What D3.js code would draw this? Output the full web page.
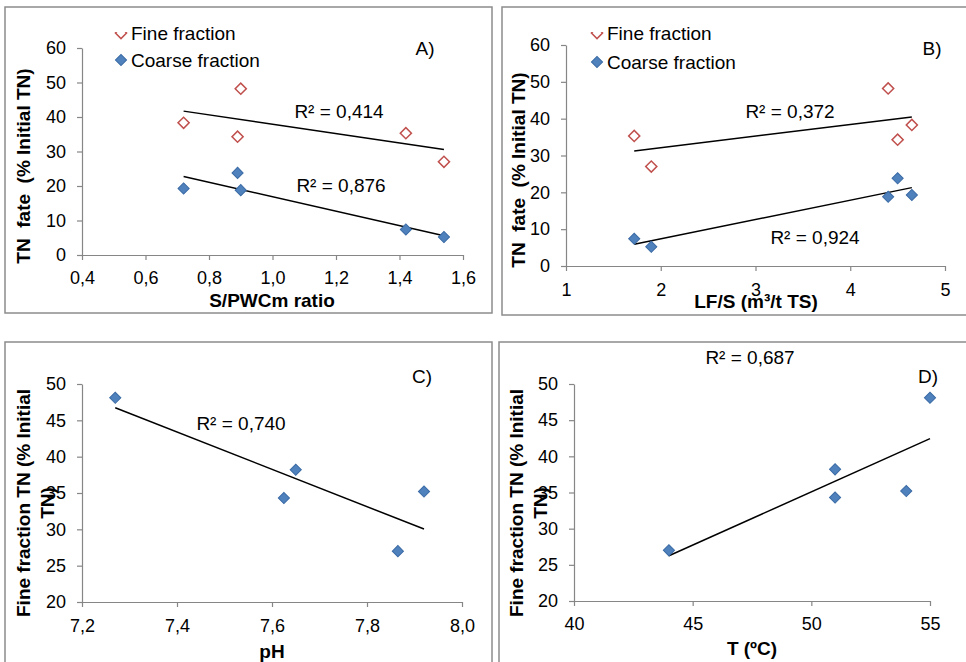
<!DOCTYPE html>
<html>
<head lang="en">
    <meta charset="UTF-8">
    <title>TN fate</title>
    <style>
        body { margin: 0; background: #fff; }
        text { font-family: "Liberation Sans", Arial, sans-serif; fill: #000; }
    </style>
</head>
<body>
<div id="chart"></div>
<script src="https://cdnjs.cloudflare.com/ajax/libs/d3/7.8.5/d3.min.js"></script>
<script>
// --- data ---
var ratioSPWC = [0.72, 0.89, 0.90, 1.42, 1.54];
var fineByRatio = [38.3, 34.3, 48.2, 35.3, 27.0];
var coarseByRatio = [19.3, 23.8, 18.8, 7.4, 5.2];

var lfS = [1.72, 1.90, 4.40, 4.50, 4.65];
var fineByLFS = [35.3, 27.0, 48.2, 34.3, 38.3];
var coarseByLFS = [7.4, 5.2, 18.8, 23.8, 19.3];

var pHValues = [7.27, 7.625, 7.65, 7.865, 7.92];
var tempC = [55, 51, 51, 44, 54];
var fineFractionTN = [48.1, 34.3, 38.2, 27.0, 35.2];

var ticksRatio = [0.4, 0.6, 0.8, 1.0, 1.2, 1.4, 1.6];
var ticksLFS = [1, 2, 3, 4, 5];
var ticksPH = [7.2, 7.4, 7.6, 7.8, 8.0];
var ticksT = [40, 45, 50, 55];
var ticksFate = [0, 10, 20, 30, 40, 50, 60];
var ticksFine = [20, 25, 30, 35, 40, 45, 50];

var r2Labels = ["R\u00b2 = 0,414", "R\u00b2 = 0,876", "R\u00b2 = 0,372", "R\u00b2 = 0,924", "R\u00b2 = 0,740", "R\u00b2 = 0,687"];
var legendNames = ["Fine fraction", "Coarse fraction"];

var svg = d3.select("#chart").append("svg")
        .attr("width", 966)
        .attr("height", 662);

var axisColor = "#868686";
var comma1 = function (v) { return d3.format(".1f")(v).replace(".", ","); };
var diamond = d3.symbol().type(d3.symbolSquare).size(62);

// least squares fit, drawn between min and max x
function fitLine(xs, ys) {
    var mx = d3.mean(xs), my = d3.mean(ys);
    var sxy = d3.sum(xs, function (x, i) { return (x - mx) * (ys[i] - my); });
    var sxx = d3.sum(xs, function (x) { return (x - mx) * (x - mx); });
    var b = sxy / sxx, a = my - b * mx;
    var ext = d3.extent(xs);
    return ext.map(function (x) { return [x, a + b * x]; });
}

function drawPanel(p) {
    var g = svg.append("g");

    g.append("rect")
        .attr("x", p.frame[0]).attr("y", p.frame[1])
        .attr("width", p.frame[2]).attr("height", p.frame[3])
        .attr("fill", "none").attr("stroke", "#8c8c8c").attr("stroke-width", 1.5);

    var x = d3.scaleLinear().domain(p.xDomain).range(p.xRange);
    var y = d3.scaleLinear().domain(p.yDomain).range(p.yRange);

    var xAxis = g.append("g")
        .attr("transform", "translate(0," + p.yRange[0] + ")")
        .call(d3.axisBottom(x).tickValues(p.xTicks).tickFormat(p.xFormat)
            .tickSize(5).tickSizeOuter(0).tickPadding(p.xPad));
    var yAxis = g.append("g")
        .attr("transform", "translate(" + p.xRange[0] + ",0)")
        .call(d3.axisLeft(y).tickValues(p.yTicks).tickFormat(d3.format("d"))
            .tickSize(5).tickSizeOuter(0).tickPadding(11));

    [xAxis, yAxis].forEach(function (ax) {
        ax.select(".domain").attr("stroke", axisColor).attr("stroke-width", 1.2);
        ax.selectAll(".tick line").attr("stroke", axisColor).attr("stroke-width", 1.2);
        ax.selectAll("text").attr("font-size", 18)
            .style("font-family", "'Liberation Sans', Arial, sans-serif").attr("fill", "#000");
    });

    // trendlines under markers
    p.series.forEach(function (s) {
        g.append("path")
            .datum(fitLine(p.xs, s.values))
            .attr("fill", "none").attr("stroke", "#000").attr("stroke-width", 1.5)
            .attr("d", d3.line().x(function (d) { return x(d[0]); }).y(function (d) { return y(d[1]); }));
    });

    p.series.forEach(function (s) {
        g.selectAll(null)
            .data(s.values)
            .enter().append("path")
            .attr("d", diamond)
            .attr("transform", function (d, i) {
                return "translate(" + x(p.xs[i]) + "," + y(d) + ") rotate(45)";
            })
            .attr("fill", s.fill).attr("stroke", s.stroke).attr("stroke-width", s.sw);
    });

    p.r2.forEach(function (r) {
        g.append("text").attr("x", r[1]).attr("y", r[2])
            .attr("text-anchor", "middle").attr("dominant-baseline", "central")
            .attr("font-size", 19).text(r[0]);
    });

    g.append("text").attr("x", p.tag[1]).attr("y", p.tag[2])
        .attr("text-anchor", "middle").attr("dominant-baseline", "central")
        .attr("font-size", 19).text(p.tag[0]);

    g.append("text").attr("x", p.xTitle[1]).attr("y", p.xTitle[2])
        .attr("text-anchor", "middle").attr("dominant-baseline", "central")
        .attr("font-size", 19).attr("font-weight", "bold")
        .text(p.xTitle[0]);

    // y title, may be two lines
    var yt = g.append("text")
        .attr("transform", "translate(" + p.yTitle[1] + "," + p.yTitle[2] + ") rotate(-90)")
        .attr("text-anchor", "middle")
        .attr("font-size", 19).attr("font-weight", "bold");
    p.yTitle[0].forEach(function (line, i) {
        yt.append("tspan").attr("x", 0).attr("y", i * 24 + 7).text(line);
    });

    if (p.legend) {
        var clipId = "clip" + p.tag[0].charAt(0);
        svg.append("clipPath").attr("id", clipId)
            .append("rect").attr("x", p.legend[0] - 8).attr("y", p.legend[1] - 1)
            .attr("width", 16).attr("height", 10);
        p.series.forEach(function (s, i) {
            var ly = p.legend[1 + i];
            var holder = g.append("g");
            if (i === 0) holder.attr("clip-path", "url(#" + clipId + ")");
            holder.append("path").attr("d", diamond)
                .attr("transform", "translate(" + p.legend[0] + "," + ly + ") rotate(45)")
                .attr("fill", s.fill).attr("stroke", s.stroke).attr("stroke-width", s.sw);
            g.append("text").attr("x", p.legend[0] + 10).attr("y", ly)
                .attr("dominant-baseline", "central").attr("font-size", 19)
                .text(legendNames[i]);
        });
    }
}

var fineStyle = { fill: "#fff", stroke: "#C0504D", sw: 1.5 };
var coarseStyle = { fill: "#4F81BD", stroke: "#3B6BA5", sw: 1 };

drawPanel({
    frame: [5, 7, 487, 306],
    xDomain: [0.4, 1.6], xRange: [82, 463], xTicks: ticksRatio, xFormat: comma1, xPad: 11,
    yDomain: [0, 60], yRange: [255, 48], yTicks: ticksFate,
    xs: ratioSPWC,
    series: [Object.assign({ values: fineByRatio }, fineStyle), Object.assign({ values: coarseByRatio }, coarseStyle)],
    r2: [[r2Labels[0], 339, 111], [r2Labels[1], 341, 185]],
    tag: ["A)", 425, 48],
    xTitle: ["S/PWCm ratio", 272, 300],
    yTitle: [["TN\u00a0 fate\u00a0 (% Initial TN)"], 23, 166],
    legend: [121, 33, 60]
});

drawPanel({
    frame: [502, 7, 470, 308],
    xDomain: [1, 5], xRange: [566, 945], xTicks: ticksLFS, xFormat: d3.format("d"), xPad: 12,
    yDomain: [0, 60], yRange: [266, 45], yTicks: ticksFate,
    xs: lfS,
    series: [Object.assign({ values: fineByLFS }, fineStyle), Object.assign({ values: coarseByLFS }, coarseStyle)],
    r2: [[r2Labels[2], 790, 111], [r2Labels[3], 815, 237]],
    tag: ["B)", 932, 48],
    xTitle: ["LF/S (m\u00b3/t TS)", 756, 301],
    yTitle: [["TN\u00a0 fate\u00a0 (% Initial TN)"], 518, 170],
    legend: [597, 33, 62]
});

drawPanel({
    frame: [5, 342, 487, 330],
    xDomain: [7.2, 8.0], xRange: [82, 462], xTicks: ticksPH, xFormat: comma1, xPad: 12,
    yDomain: [20, 50], yRange: [602, 384], yTicks: ticksFine,
    xs: pHValues,
    series: [Object.assign({ values: fineFractionTN }, coarseStyle)],
    r2: [[r2Labels[4], 241, 423]],
    tag: ["C)", 422, 376],
    xTitle: ["pH", 272, 651],
    yTitle: [["Fine fraction TN (% Initial", "TN)"], 23, 503]
});

drawPanel({
    frame: [499, 342, 475, 330],
    xDomain: [40, 55], xRange: [574, 930], xTicks: ticksT, xFormat: d3.format("d"), xPad: 11,
    yDomain: [20, 50], yRange: [601, 384], yTicks: ticksFine,
    xs: tempC,
    series: [Object.assign({ values: fineFractionTN }, coarseStyle)],
    r2: [[r2Labels[5], 750, 357]],
    tag: ["D)", 928, 376],
    xTitle: ["T (\u00baC)", 752, 648],
    yTitle: [["Fine fraction TN (% Initial", "TN)"], 516, 503]
});
</script>
</body>
</html>
